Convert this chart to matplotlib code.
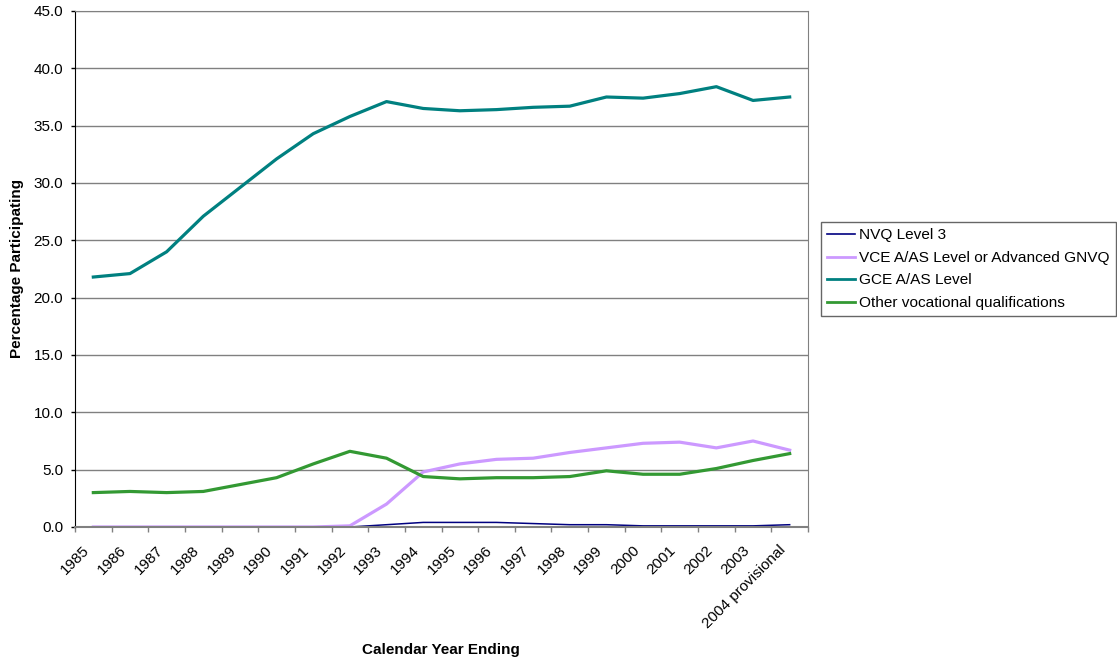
import matplotlib
matplotlib.use("Agg")
import matplotlib.pyplot as plt
import matplotlib.transforms as mtransforms
import numpy as np

plt.rcParams['font.family'] = ['Liberation Sans', 'DejaVu Sans']

years = ["1985", "1986", "1987", "1988", "1989", "1990", "1991", "1992", "1993",
         "1994", "1995", "1996", "1997", "1998", "1999", "2000", "2001", "2002",
         "2003", "2004 provisional"]

nvq = [0.0, 0.0, 0.0, 0.0, 0.0, 0.0, 0.0, 0.0, 0.2, 0.4, 0.4, 0.4, 0.3, 0.2,
       0.2, 0.1, 0.1, 0.1, 0.1, 0.2]
vce = [0.0, 0.0, 0.0, 0.0, 0.0, 0.0, 0.0, 0.1, 2.0, 4.8, 5.5, 5.9, 6.0, 6.5,
       6.9, 7.3, 7.4, 6.9, 7.5, 6.7]
gce = [21.8, 22.1, 24.0, 27.1, 29.6, 32.1, 34.3, 35.8, 37.1, 36.5, 36.3, 36.4,
       36.6, 36.7, 37.5, 37.4, 37.8, 38.4, 37.2, 37.5]
other = [3.0, 3.1, 3.0, 3.1, 3.7, 4.3, 5.5, 6.6, 6.0, 4.4, 4.2, 4.3, 4.3, 4.4,
         4.9, 4.6, 4.6, 5.1, 5.8, 6.4]

series = [
    ("NVQ Level 3", nvq, "#000080", 1.1),
    ("VCE A/AS Level or Advanced GNVQ", vce, "#CC99FF", 2.3),
    ("GCE A/AS Level", gce, "#008080", 2.3),
    ("Other vocational qualifications", other, "#339933", 2.3),
]

FS = 11

fig = plt.figure(figsize=(11.17, 6.6), dpi=100)
ax = fig.add_axes([75 / 1117, 1 - 527 / 660, (808 - 75) / 1117, (527 - 11) / 660])

x = np.arange(len(years))
for name, vals, color, lw in series:
    ax.plot(x, vals, color=color, lw=lw, label=name, solid_joinstyle='round')

ax.set_xlim(-0.5, len(years) - 0.5)
ax.set_ylim(0, 45)
yt = np.arange(0, 45.1, 5)
ax.set_yticks(yt)
ax.set_yticklabels([f"{v:.1f}" for v in yt], fontsize=FS)
ax.yaxis.grid(True, color="#808080", lw=1.0)
ax.set_axisbelow(True)

# category ticks sit between categories, labels at the category centres
ax.set_xticks(np.arange(-0.5, len(years), 1.0))
ax.set_xticklabels([])
ax.set_xticks(x, minor=True)
ax.set_xticklabels(years, minor=True, rotation=45, ha='right', va='center',
                   rotation_mode='anchor', fontsize=FS)
ax.tick_params(axis='x', which='minor', length=0, pad=15)
ax.tick_params(axis='x', which='major', length=3.5, color="#808080", width=1)
ax.tick_params(axis='y', length=3, color="black", width=1, pad=5.5)
shift = mtransforms.ScaledTranslation(-6 / 100, 0, fig.dpi_scale_trans)
for lab in ax.get_xticklabels(minor=True):
    lab.set_transform(lab.get_transform() + shift)

for side in ['top', 'right']:
    ax.spines[side].set_color("#808080")
ax.spines['bottom'].set_color("#808080")
ax.spines['bottom'].set_linewidth(1.5)
ax.spines['left'].set_color("black")

fig.text(17 / 1117, 1 - 269 / 660, "Percentage Participating", rotation=90,
         ha='center', va='center', fontsize=FS, fontweight='bold')
fig.text(441 / 1117, 1 - 650 / 660, "Calendar Year Ending", ha='center', va='center',
         fontsize=FS, fontweight='bold')

leg = fig.legend(loc='upper left', bbox_to_anchor=(821 / 1117, 1 - 222 / 660),
                 fontsize=11.1, frameon=True, fancybox=False, handlelength=1.8,
                 handletextpad=0.25, borderpad=0.42, labelspacing=0.55, borderaxespad=0)
leg.get_frame().set_edgecolor("#404040")
leg.get_frame().set_linewidth(1.0)
for h in leg.get_lines():
    h.set_linewidth(2.0)
leg.get_lines()[0].set_linewidth(1.2)

fig.savefig("out.png", dpi=100)
